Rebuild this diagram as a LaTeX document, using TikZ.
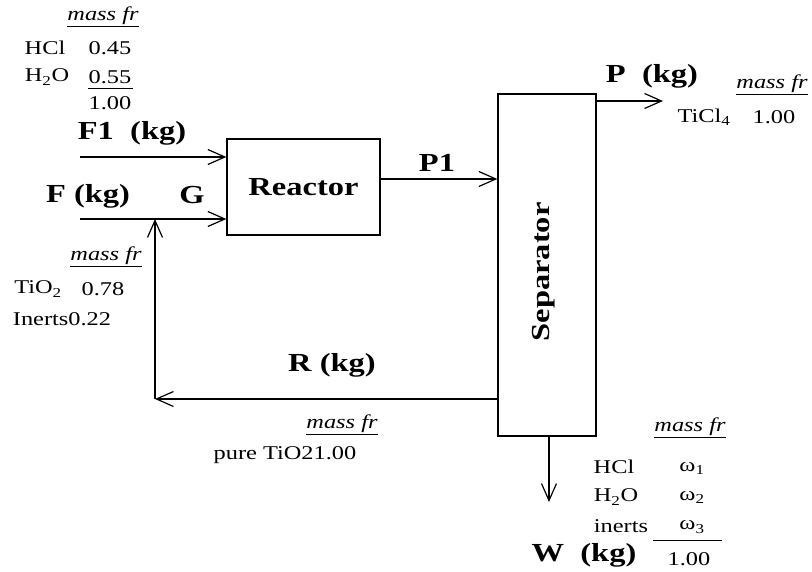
\documentclass[tikz,border=0pt]{standalone}
\usepackage{fontspec}
\setmainfont{Liberation Serif}[FakeStretch=1.25]
\usetikzlibrary{arrows.meta,positioning,calc}

\begin{document}
\begin{tikzpicture}[x=1pt, y=-1pt, line width=1.2pt,
    every node/.style={font=\fontsize{19.5}{22}\selectfont, inner sep=0pt},
    tag/.style={font=\fontsize{26}{30}\selectfont\bfseries},
    frac/.style={font=\fontsize{19.5}{22}\selectfont\itshape},
    unit/.style={draw, line width=1.3pt},
    flow/.style={-{Straight Barb[length=17pt,width=15pt]}}]
      \useasboundingbox (0,0) rectangle (812,572);
      % process units
      \node[unit, tag, minimum width=153pt, minimum height=96pt] (reactor) at (303.5,187) {Reactor};
      \node[unit, minimum width=98pt, minimum height=342pt] (sep) at (547,265) {};
      \node[tag, rotate=90] (septxt) at (544,272) {Separator};
      % streams
      \coordinate (f1) at (80,157); \coordinate (f) at (80,219);
      \coordinate (g) at (155,219); \coordinate (rc) at (155,399);
      \coordinate (p1) at (380,179); \coordinate (p) at (663,101); \coordinate (w) at (549,502);
      \draw[flow] (f1) -- (f1 -| reactor.west);
      \draw[flow] (f) -- (f -| reactor.west);
      \draw[flow] (sep.west |- rc) -- (rc);
      \draw[flow] (rc) -- (g);
      \draw[flow] (p1 -| reactor.east) -- (p1 -| sep.west);
      \draw[flow] (p -| sep.east) -- (p);
      \draw[flow] (w |- sep.south) -- (w);
      % stream labels
      \node[tag] (F1) at (132,133) {F1~~(kg)};
      \node[tag] (F) at (88,196) {F~(kg)};
      \node[tag] (G) at (192,195) {G};
      \node[tag] (P1) at (437,163) {P1};
      \node[tag] (P) at (652,76) {P~~(kg)};
      \node[tag] (R) at (332,365) {R~(kg)};
      \node[tag] (W) at (584,555) {W~~(kg)};
      % F1 composition
      \node[frac] (mf1) at (103,17) {\underline{mass fr}};
      \node (hcl1) at (45,48) {HCl}; \node (x1) at (110,48) {0.45};
      \node (h2o1) at (47,77) {H\textsubscript{2}O}; \node (x2) at (110,77) {0.55};
      \draw[line width=1pt] (88,89) -- (133,89);
      \node (s1) at (110,103) {1.00};
      % F composition
      \node[frac] (mf2) at (106,257) {\underline{mass fr}};
      \node (tio2) at (38,289) {TiO\textsubscript{2}}; \node (x3) at (103,289) {0.78};
      \node (inerts) at (62,319) {Inerts0.22};
      % P composition
      \node[frac] (mf3) at (772,85) {\underline{mass fr}};
      \node (ticl4) at (704,117) {TiCl\textsubscript{4}}; \node (x4) at (774,117) {1.00};
      % R composition
      \node[frac] (mf4) at (342,425) {\underline{mass fr}};
      \node (pure) at (285,455) {pure TiO21.00};
      % W composition
      \node[frac] (mf5) at (690,428) {\underline{mass fr}};
      \node (hcl2) at (614,467) {HCl}; \node (w1) at (692,468) {ω\textsubscript{1}};
      \node (h2o2) at (616,497) {H\textsubscript{2}O}; \node (w2) at (692,497) {ω\textsubscript{2}};
      \node (inert2) at (621,526) {inerts}; \node (w3) at (692,527) {ω\textsubscript{3}};
      \draw[line width=1pt] (653,540) -- (722,540);
      \node (s2) at (689,559) {1.00};
    \end{tikzpicture}
\end{document}
